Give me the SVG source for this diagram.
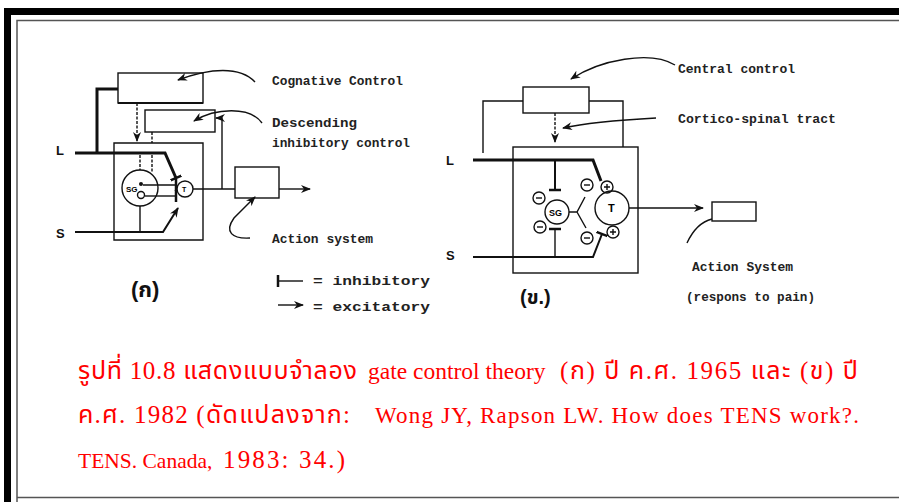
<svg xmlns="http://www.w3.org/2000/svg" width="899" height="502" viewBox="0 0 899 502">
<style>
.ln{fill:none;stroke:#111;stroke-width:1.4}
.th{fill:none;stroke:#111;stroke-width:3}
.md{fill:none;stroke:#111;stroke-width:2}
.lb{font-family:"Liberation Mono",monospace;font-weight:bold;font-size:12.5px;fill:#222}
.ls{font-family:"Liberation Sans",sans-serif;font-weight:bold;font-size:13px;fill:#111}
.cap{font-family:"Liberation Serif","Noto Sans Thai","Noto Serif Thai","Loma","Garuda",serif;font-size:25px;fill:#ff0000}
.lat{font-size:23px}
</style>
<defs>
<marker id="arr" markerWidth="10" markerHeight="8" refX="9" refY="4" orient="auto" markerUnits="userSpaceOnUse">
<path d="M0,0 L10,4 L0,8 L3,4 Z" fill="#111"/>
</marker>
<marker id="bar" markerWidth="4" markerHeight="12" refX="2" refY="6" orient="auto" markerUnits="userSpaceOnUse">
<path d="M2,0 V12" stroke="#111" stroke-width="2.5"/>
</marker>
</defs>
<rect width="899" height="502" fill="#fff"/>
<g id="frame">
<path d="M7.5,502 V11.5 H899" fill="none" stroke="#000" stroke-width="7"/>
<path d="M17,502 V20.5 H899" fill="none" stroke="#555" stroke-width="1.5"/>
<path d="M17,497.5 H899" fill="none" stroke="#555" stroke-width="1.5"/>
</g>

<!-- Left diagram (ก) -->
<g id="cognitive-box"><rect x="118" y="73" width="85" height="30" class="ln"/><path d="M118,103 H203" class="md"/></g>
<g id="descending-box"><rect x="145" y="110" width="70" height="22" class="ln"/></g>
<g id="gate-box"><path d="M114,143 H203 V240 H114 Z" class="ln"/></g>
<g id="sg-left"><circle cx="140" cy="188" r="18" class="ln"/><circle cx="141" cy="195" r="3.5" class="ln"/><circle cx="141" cy="184" r="2" fill="#111"/><text x="126" y="192" font-family="Liberation Sans,sans-serif" font-size="8" font-weight="bold">SG</text></g>
<g id="t-left"><circle cx="185" cy="189" r="8" class="ln"/><text x="182" y="192" font-family="Liberation Sans,sans-serif" font-size="7" font-weight="bold">T</text></g>
<g id="action-left"><rect x="235" y="167" width="44" height="31" class="ln"/></g>
<g id="connectors-left">
<path d="M118,89 H97 V153" class="th"/>
<path d="M75,153 H165 L176,178" class="th" marker-end="url(#bar)"/>
<path d="M255,82 C240,66 210,68 178,80" class="ln" marker-end="url(#arr)"/>
<path d="M262,123 C250,106 215,108 194,121" class="ln" marker-end="url(#arr)"/>
<path d="M137,103 V141" class="ln" stroke-dasharray="3,1.5" marker-end="url(#arr)"/>
<path d="M152,132 V143" class="ln" stroke-dasharray="3,1.5"/>
<path d="M140,155 V170" class="ln" stroke-dasharray="3,1.5"/>
<path d="M152,155 V172" class="ln" stroke-dasharray="3,1.5"/>
<path d="M143,185 H176" class="ln" marker-end="url(#bar)"/>
<path d="M145,196 H176" class="ln" marker-end="url(#bar)"/>
<path d="M140,206 V232" class="ln"/>
<path d="M75,232 H163 L178,208" class="md" marker-end="url(#arr)"/>
<path d="M193,189 H235" class="ln"/>
<path d="M222,189 V118 H216" class="ln" marker-end="url(#arr)"/>
<path d="M279,189 H310" class="ln" marker-end="url(#arr)"/>
<path d="M250,238 C232,239 224,232 234,218 L255,197" class="ln" marker-end="url(#arr)"/>
</g>
<g id="labels-left">
<text class="lb" x="272" y="85" textLength="131" lengthAdjust="spacingAndGlyphs">Cognative Control</text>
<text class="lb" x="272" y="127" textLength="85" lengthAdjust="spacingAndGlyphs">Descending</text>
<text class="lb" x="272" y="147" textLength="138" lengthAdjust="spacingAndGlyphs">inhibitory control</text>
<text class="lb" x="272" y="243" textLength="101" lengthAdjust="spacingAndGlyphs">Action system</text>
<text class="ls" x="56" y="155">L</text>
<text class="ls" x="56" y="238">S</text>
<text x="131" y="297" font-family="Liberation Sans,'Noto Sans Thai',sans-serif" font-size="22" font-weight="bold" fill="#111">(ก)</text>
</g>
<g id="legend">
<path d="M278,281 H303" class="ln" marker-start="url(#bar)"/>
<text class="lb" x="313" y="285" textLength="117" lengthAdjust="spacingAndGlyphs">= inhibitory</text>
<path d="M278,305 H303" class="ln" marker-end="url(#arr)"/>
<text class="lb" x="313" y="311" textLength="117" lengthAdjust="spacingAndGlyphs">= excitatory</text>
</g>

<!-- Right diagram (ข) -->
<g id="central-box"><rect x="523" y="87" width="66" height="26" class="ln"/></g>
<g id="gate-box-right"><rect x="513" y="147" width="125" height="126" class="ln"/></g>
<g id="sg-right"><circle cx="557" cy="212" r="12" class="ln"/><text x="549" y="216" font-family="Liberation Sans,sans-serif" font-size="9" font-weight="bold">SG</text></g>
<g id="t-right"><circle cx="612" cy="208" r="17" class="ln"/><text x="608" y="212" font-family="Liberation Sans,sans-serif" font-size="11" font-weight="bold">T</text></g>
<g id="signs">
<circle cx="539" cy="198" r="6" class="ln"/><path d="M536,198 H542" class="ln"/>
<circle cx="540" cy="227" r="6" class="ln"/><path d="M537,227 H543" class="ln"/>
<circle cx="587" cy="185" r="6" class="ln"/><path d="M584,185 H590" class="ln"/>
<circle cx="587" cy="238" r="6" class="ln"/><path d="M584,238 H590" class="ln"/>
<circle cx="607" cy="187" r="6" class="ln"/><path d="M604,187 H610 M607,184 V190" class="ln"/>
<circle cx="613" cy="232" r="6" class="ln"/><path d="M610,232 H616 M613,229 V235" class="ln"/>
</g>
<g id="action-right"><rect x="712" y="202" width="44" height="19" class="ln"/></g>
<g id="connectors-right">
<path d="M523,101 H483 V153" class="ln"/>
<path d="M589,101 H623 V147" class="ln"/>
<path d="M555,113 V142" class="ln" stroke-dasharray="3,1.5" marker-end="url(#arr)"/>
<path d="M675,65 C650,50 600,60 571,79" class="ln" marker-end="url(#arr)"/>
<path d="M656,118 C620,120 590,122 563,128" class="ln" marker-end="url(#arr)"/>
<path d="M473,160 H593 L601,181" class="th"/>
<path d="M555,160 V190" class="md" marker-end="url(#bar)"/>
<path d="M473,257 H593 L602,234" class="md" marker-end="url(#bar)"/>
<path d="M555,257 V229" class="ln" marker-end="url(#bar)"/>
<path d="M569,212 H577 L585,197 M577,212 L586,228" class="ln"/>
<path d="M629,208 H703" class="ln" marker-end="url(#arr)"/>
<path d="M687,243 C693,230 700,222 712,219" class="ln"/>
</g>
<g id="labels-right">
<text class="lb" x="678" y="73" textLength="117" lengthAdjust="spacingAndGlyphs">Central control</text>
<text class="lb" x="678" y="123" textLength="158" lengthAdjust="spacingAndGlyphs">Cortico-spinal tract</text>
<text class="lb" x="692" y="271" textLength="101" lengthAdjust="spacingAndGlyphs">Action System</text>
<text class="lb" x="686" y="301" textLength="129" lengthAdjust="spacingAndGlyphs">(respons to pain)</text>
<text class="ls" x="446" y="165">L</text>
<text class="ls" x="446" y="260">S</text>
<text x="520" y="304" font-family="Liberation Sans,'Noto Sans Thai',sans-serif" font-size="20" font-weight="bold" fill="#111">(ข.)</text>
</g>

<g id="caption">
<text class="cap" x="78" y="379" textLength="279" lengthAdjust="spacing">รูปที่ 10.8 แสดงแบบจำลอง</text>
<text class="cap" x="368" y="379" style="font-size:23.5px">gate control theory</text>
<text class="cap" x="560" y="379" textLength="298" lengthAdjust="spacing">(ก) ปี ค.ศ. 1965 และ (ข) ปี</text>
<text class="cap" x="78" y="423" textLength="272" lengthAdjust="spacing">ค.ศ. 1982 (ดัดแปลงจาก:</text>
<text class="cap lat" x="375" y="423" textLength="484" lengthAdjust="spacing">Wong JY, Rapson LW. How does TENS work?.</text>
<text class="cap" x="78" y="468" style="font-size:21.5px">TENS. Canada,</text>
<text class="cap" x="223" y="468" textLength="122" lengthAdjust="spacing">1983: 34.)</text>
</g>
</svg>
